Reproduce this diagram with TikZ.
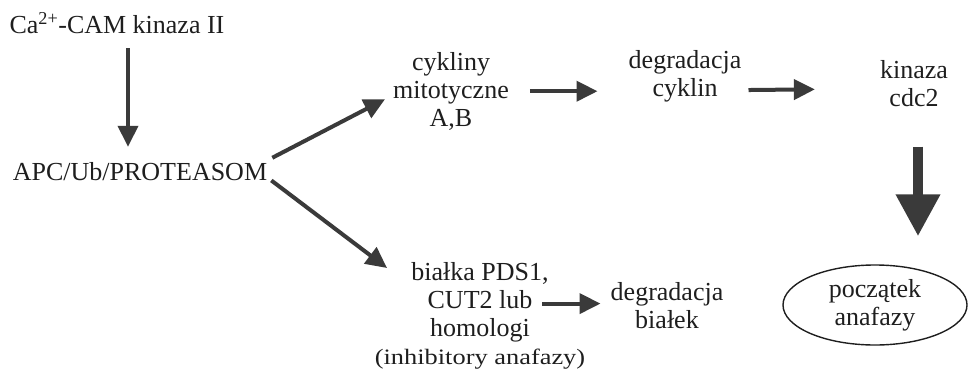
\documentclass[tikz,border=0pt]{standalone}
\usepackage{fontspec}
\setmainfont{Liberation Serif}
\newfontfamily\widefont[FakeStretch=1.2]{Liberation Serif}
\usetikzlibrary{arrows.meta,shapes.geometric}
\definecolor{ink}{HTML}{1E1E1E}
\definecolor{arrowgray}{HTML}{3A3A3A}
\newcommand\lblfont{\fontsize{26}{28}\selectfont}
\newcommand\smallfont{\widefont\fontsize{22}{25}\selectfont}

\begin{document}
\begin{tikzpicture}[x=1pt,y=1pt,
    every node/.style={inner sep=0pt, text=ink, font=\lblfont, align=center},
    arr/.style={draw=arrowgray, line width=4pt, -{Triangle[length=21pt,width=20pt]}},
    bigarr/.style={draw=arrowgray, line width=10pt, -{Triangle[length=42pt,width=42pt]}}]
    \useasboundingbox (0,0) rectangle (968,-377);
    % left column
    \node[anchor=base] (ca) at (117,-34) {Ca\textsuperscript{2+}-CAM kinaza II};
    \node[anchor=base] (apc) at (140,-180) {APC/Ub/PROTEASOM};
    % upper row
    \node[anchor=north] (cyk) at (451,-52) {cykliny\\mitotyczne\\A,B};
    \node[anchor=north] (degc) at (685,-50) {degradacja\\cyklin};
    \node[anchor=north] (kin) at (914,-60) {kinaza\\cdc2};
    % lower row
    \node[anchor=north] (bialka) at (480,-262) {białka PDS1,\\CUT2 lub\\homologi\\{\smallfont (inhibitory anafazy)}};
    \node[anchor=north] (degb) at (667,-282) {degradacja\\białek};
    \node[ellipse, draw=ink, line width=1.4pt, minimum width=184pt, minimum height=80pt] (anaf) at (875,-305) {początek\\anafazy};
    \coordinate (bout) at ([xshift=62pt,yshift=12pt]bialka.center);
    % arrows
    \draw[arr] ([xshift=11pt,yshift=-14pt]ca.south) -- ([xshift=-12pt,yshift=15pt]apc.north);
    \draw[arr] ([xshift=5pt,yshift=4pt]apc.north east) -- ([xshift=-8pt,yshift=-8pt]cyk.west);
    \draw[arr] ([xshift=4pt]apc.south east) -- ([xshift=-93pt,yshift=-6pt]bialka.north);
    \draw[arr] ([xshift=21pt]cyk.east) -- ([xshift=-31pt]cyk.east -| degc.west);
    \draw[arr] ([xshift=7pt,yshift=-14pt]degc.east) -- ([xshift=-65pt,yshift=-6pt]kin.west);
    \draw[bigarr] ([xshift=4pt,yshift=-40pt]kin.south) -- ([xshift=43pt,yshift=28pt]anaf.north);
    \draw[arr, shorten >=10pt] (bout) -- (bout -| degb.west);
\end{tikzpicture}
\end{document}
